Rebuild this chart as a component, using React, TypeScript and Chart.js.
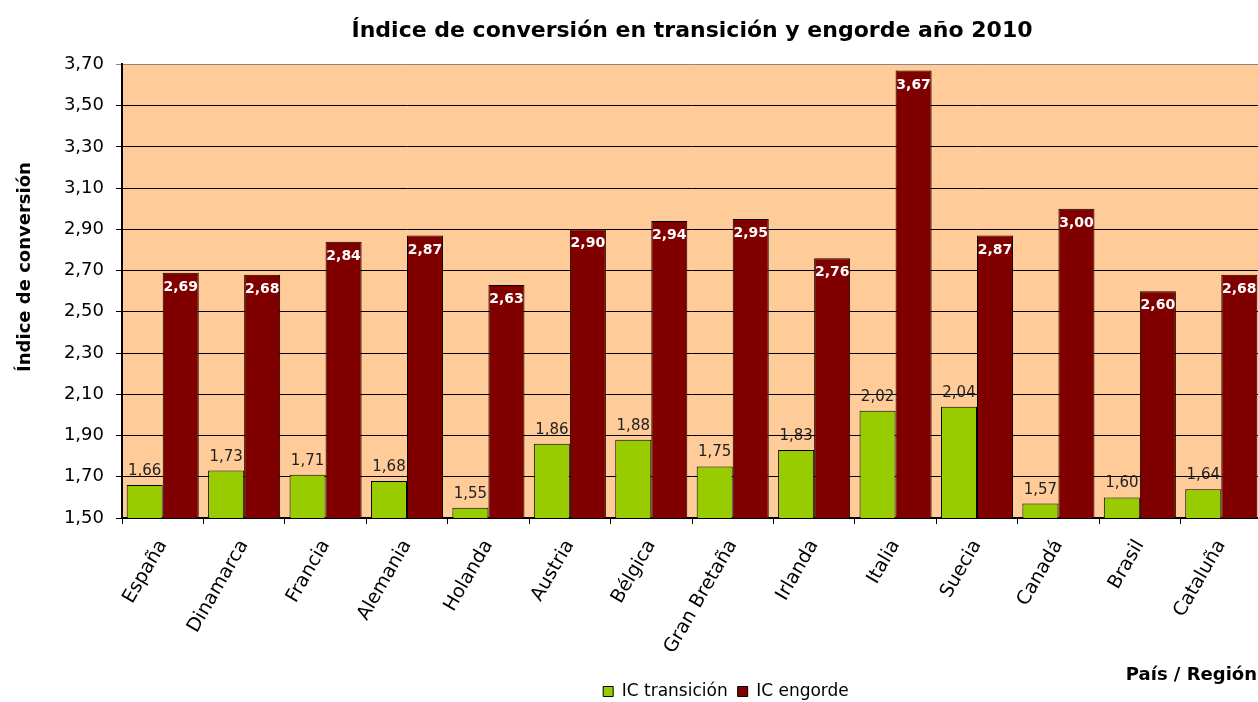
import React, { useEffect, useRef } from "react";
import { Chart, registerables } from "chart.js";

Chart.register(...registerables);

const categories = [
  "España", "Dinamarca", "Francia", "Alemania", "Holanda", "Austria", "Bélgica",
  "Gran Bretaña", "Irlanda", "Italia", "Suecia", "Canadá", "Brasil", "Cataluña",
];
const icTransicion = [1.66, 1.73, 1.71, 1.68, 1.55, 1.86, 1.88, 1.75, 1.83, 2.02, 2.04, 1.57, 1.6, 1.64];
const icEngorde = [2.69, 2.68, 2.84, 2.87, 2.63, 2.9, 2.94, 2.95, 2.76, 3.67, 2.87, 3.0, 2.6, 2.68];
const yMin = 1.5;
const yMax = 3.7;
const yStep = 0.2;

const FONT = "'DejaVu Sans', 'Liberation Sans', Arial, sans-serif";
const fmt = (v: number) => v.toFixed(2).replace(".", ",");

const VIEW_W = 1258;
const CANVAS_W = 1262;
const CANVAS_H = 702;

const chartBgPlugin = {
  id: "plotBg",
  beforeDraw(chart: any) {
    const { ctx, chartArea } = chart;
    ctx.save();
    ctx.fillStyle = "#FFCC99";
    ctx.fillRect(chartArea.left, chartArea.top, chartArea.right - chartArea.left, chartArea.bottom - chartArea.top);
    ctx.restore();
  },
};

const legendShiftPlugin = {
  id: "legendShift",
  afterLayout(chart: any) {
    const lg = chart.legend;
    if (!lg) return;
    lg.left += 95;
    lg.right += 95;
    lg.top += 8;
    lg.bottom += 8;
  },
};

const valueLabelPlugin = {
  id: "valueLabels",
  afterDatasetsDraw(chart: any) {
    const { ctx } = chart;
    ctx.save();
    ctx.textAlign = "center";
    ctx.textBaseline = "alphabetic";
    chart.data.datasets.forEach((ds: any, di: number) => {
      const meta = chart.getDatasetMeta(di);
      meta.data.forEach((bar: any, i: number) => {
        const v = ds.data[i] as number;
        if (di === 0) {
          ctx.font = `15px ${FONT}`;
          ctx.fillStyle = "#222";
          ctx.fillText(fmt(v), bar.x, bar.y - 10);
        } else {
          ctx.font = `bold 14px ${FONT}`;
          ctx.fillStyle = "#ffffff";
          ctx.fillText(fmt(v), bar.x, bar.y + 18);
        }
      });
    });
    ctx.restore();
  },
};

const extraTextPlugin = {
  id: "extraText",
  afterDraw(chart: any) {
    const { ctx } = chart;
    ctx.save();
    ctx.fillStyle = "#000";
    ctx.font = `bold 18px ${FONT}`;
    ctx.textAlign = "right";
    ctx.textBaseline = "alphabetic";
    ctx.fillText("País / Región", VIEW_W - 1, 680);
    ctx.translate(25, 267);
    ctx.rotate(-Math.PI / 2);
    ctx.textAlign = "center";
    ctx.textBaseline = "middle";
    ctx.fillText("Índice de conversión", 0, 0);
    ctx.restore();
  },
};

export default function App() {
  const ref = useRef<HTMLCanvasElement | null>(null);

  useEffect(() => {
    if (!ref.current) return;
    document.body.style.margin = "0";
    document.body.style.overflow = "hidden";
    const chart = new Chart(ref.current, {
      type: "bar",
      data: {
        labels: categories,
        datasets: [
          {
            label: "IC transición",
            data: icTransicion,
            backgroundColor: "#99CC00",
            borderColor: "#000000",
            borderWidth: 1,
            categoryPercentage: 0.885,
            barPercentage: 1,
          },
          {
            label: "IC engorde",
            data: icEngorde,
            backgroundColor: "#800000",
            borderColor: "#000000",
            borderWidth: 1,
            categoryPercentage: 0.885,
            barPercentage: 1,
          },
        ],
      },
      options: {
        responsive: false,
        animation: false,
        layout: { padding: 0 },
        plugins: {
          title: {
            display: true,
            text: "Índice de conversión en transición y engorde año 2010",
            fullSize: false,
            color: "#000",
            font: { family: FONT, size: 22, weight: "bold" },
            padding: { top: 18, bottom: 20 },
          },
          legend: {
            display: true,
            position: "bottom",
            labels: {
              boxWidth: 10,
              boxHeight: 10,
              padding: 10,
              color: "#000",
              font: { family: FONT, size: 17 },
            },
          },
          tooltip: { enabled: false },
        },
        scales: {
          x: {
            grid: {
              display: true,
              drawOnChartArea: false,
              offset: true,
              tickLength: 6,
              color: "#000",
            },
            border: { color: "#000", width: 2 },
            ticks: {
              autoSkip: false,
              minRotation: 60,
              maxRotation: 60,
              padding: 12,
              color: "#000",
              font: { family: FONT, size: 19 },
            },
            afterFit(scale: any) {
              scale.height = 147;
            },
          },
          y: {
            min: yMin,
            max: yMax,
            grid: {
              color: (c: any) => (c.tick && Math.abs(c.tick.value - yMax) < 1e-6 ? "#888" : "#000"),
              lineWidth: 1,
              tickLength: 6,
            },
            border: { color: "#000", width: 2 },
            ticks: {
              stepSize: yStep,
              padding: 12,
              color: "#000",
              font: { family: FONT, size: 18 },
              callback: (v: any) => fmt(Number(v)),
            },
            afterFit(scale: any) {
              scale.width = 122;
            },
          },
        },
      },
      plugins: [chartBgPlugin, legendShiftPlugin, valueLabelPlugin, extraTextPlugin],
    });
    return () => chart.destroy();
  }, []);

  return (
    <div style={{ position: "absolute", left: 0, top: 0, width: VIEW_W, height: CANVAS_H, overflow: "hidden" }}>
      <canvas ref={ref} width={CANVAS_W} height={CANVAS_H} style={{ display: "block" }} />
    </div>
  );
}
